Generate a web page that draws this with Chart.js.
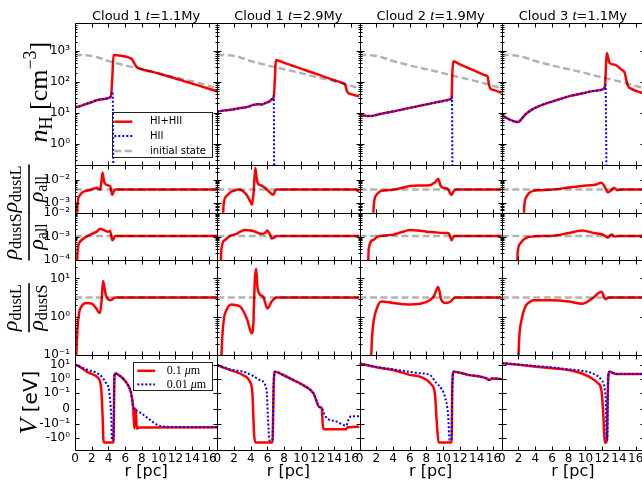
<!DOCTYPE html>
<html>
<head>
<meta charset="utf-8">
<script src="https://cdn.jsdelivr.net/npm/chart.js@4/dist/chart.umd.min.js"></script>
<style>
html, body { margin:0; padding:0; background:#ffffff; overflow:hidden; }
body { width:642px; height:482px; position:relative; }
#c { position:absolute; left:0; top:0; }
</style>
</head>
<body>
<canvas id="c" width="660" height="482" style="width:660px;height:482px"></canvas>
<script>
// ---------------- categories / labels ----------------
const COL_TITLES = ['Cloud 1', 'Cloud 1', 'Cloud 2', 'Cloud 3'];
const COL_TIMES  = ['1.1', '2.9', '1.9', '1.1'];
const X_TICKS = [0, 2, 4, 6, 8, 10, 12, 14, 16];
const X_MIN = 0, X_MAX = 17;

const NH_TICKS = [1, 10, 100, 1000];      const NH_LABELS = ['10⁰', '10¹', '10²', '10³'];
const L_TICKS  = [0.001, 0.01];           const L_LABELS  = ['10⁻³', '10⁻²'];
const S_TICKS  = [0.0001, 0.001, 0.01];   const S_LABELS  = ['10⁻⁴', '10⁻³', '10⁻²'];
const LS_TICKS = [0.1, 1, 10];            const LS_LABELS = ['10⁻¹', '10⁰', '10¹'];
const V_TICKS  = [-1, -0.1, 0, 0.1, 1, 10]; const V_LABELS = ['-10⁰', '-10⁻¹', '0', '10⁻¹', '10⁰', '10¹'];

// ---------------- initial state ----------------
const INIT_R  = [0, 1, 2, 3, 4, 5, 6, 7, 8, 9, 10, 11, 12, 13, 14, 15, 16, 17];
const INIT_NH = [740, 730, 690, 580, 470, 400, 340, 295, 255, 222, 192, 162, 140, 120, 104, 89, 74, 62];
const CONST_R = [0, 17];
const INIT_L  = [0.0038, 0.0038];
const INIT_S  = [0.00105, 0.00105];
const INIT_LS = [3.2, 3.2];

// ---------------- n_H (HI+HII) and HII ----------------
const C1_NH_R = [0,0.5,1,1.5,2,2.5,3,3.5,4,4.3,4.45,4.6,5,5.5,6,6.5,6.8,7.0,7.2,7.4,8,9,10,11,12,13,14,15,16,17];
const C1_NH   = [15,16,18,20,22,25,27,28,30,35,120,740,730,700,660,600,540,440,350,300,255,218,185,154,128,106,88,73,60,49];
const C1_HII_R = [0,0.5,1,1.5,2,2.5,3,3.5,4,4.3,4.5,4.65,17];
const C1_HII   = [15,16,18,20,22,25,27,28,30,35,48,0.001,0.001];

const C2_NH_R = [0,1,2,3,3.8,4.3,4.8,5.3,5.8,6.2,6.5,6.75,6.9,7.0,8,9,10,11,12,13,14,15,15.3,15.45,15.6,16,17];
const C2_NH   = [11,12,13,14.5,16,18,19,18.5,21,23,27,33,150,510,413,332,268,216,174,140,113,91,80,55,45,40,34];
const C2_HII_R = [0,1,2,3,3.8,4.3,4.8,5.3,5.8,6.2,6.5,6.75,6.85,17];
const C2_HII   = [11,12,13,14.5,16,18,19,18.5,21,23,27,35,0.001,0.001];

const C3_NH_R = [0,0.6,1.3,2,3,4,5,6,7,8,9,10,10.8,11.0,11.1,11.2,12,13,14,15,15.3,15.45,15.6,16,17];
const C3_NH   = [8.7,8.1,7.8,8.5,9.8,11,12.6,14.4,16.4,18.7,21.3,24.2,27,30,200,460,368,281,215,164,151,90,63,55,44];
const C3_HII_R = [0,0.6,1.3,2,3,4,5,6,7,8,9,10,10.8,11.05,11.15,17];
const C3_HII   = [8.7,8.1,7.8,8.5,9.8,11,12.6,14.4,16.4,18.7,21.3,24.2,27,34,0.001,0.001];

const C4_NH_R = [0,0.4,0.8,1.3,1.95,2.4,2.8,3.6,4.4,5.2,6,7,8,9,9.9,11,12.2,12.35,12.45,12.55,12.9,13.5,14.3,14.7,14.9,15.1,15.5,16.5,17];
const C4_NH   = [8.7,7.3,6.3,5.5,5.0,6.5,8.7,12.7,16.2,19.5,23,28,34,39,44,51,59,80,300,850,405,360,250,195,110,72,59,46,43];
const C4_HII_R = [0,0.4,0.8,1.3,1.95,2.4,2.8,3.6,4.4,5.2,6,7,8,9,9.9,11,12.2,12.4,12.6,17];
const C4_HII   = [8.7,7.3,6.3,5.5,5.0,6.5,8.7,12.7,16.2,19.5,23,28,34,39,44,51,59,80,0.001,0.001];

// ---------------- rho_dustL / rho_all ----------------
const C1_L_R = [0.15,0.3,0.5,1.0,1.4,1.8,2.2,2.6,3.0,3.15,3.3,3.45,3.6,3.9,4.2,4.45,4.6,4.8,17];
const C1_L   = [1e-5,0.0009,0.002,0.0031,0.0034,0.0036,0.0041,0.0045,0.0038,0.008,0.0195,0.009,0.0068,0.0058,0.0052,0.0023,0.003,0.0038,0.0038];
const C2_L_R = [0.6,0.75,1.1,1.5,2.0,2.5,3.0,3.5,3.9,4.15,4.35,4.55,4.7,4.9,5.2,5.7,6.2,6.7,6.9,7.1,16.6,16.85,17];
const C2_L   = [1e-5,0.0008,0.002,0.0028,0.0034,0.0038,0.0034,0.0023,0.0013,0.00087,0.003,0.032,0.012,0.0065,0.0058,0.0045,0.0031,0.0023,0.0033,0.0038,0.0038,0.0033,0.0036];
const C3_L_R = [1.55,1.7,2.0,2.4,3.0,4.0,5.0,6.0,7.2,8.4,9.0,9.4,9.7,10.0,10.5,11.0,11.2,11.5,17];
const C3_L   = [1e-5,0.0008,0.0022,0.0031,0.0035,0.0037,0.0044,0.0054,0.0056,0.0058,0.0075,0.0105,0.0055,0.0045,0.0042,0.0023,0.003,0.0038,0.0038];
const C4_L_R = [2.5,2.7,3.0,3.3,3.8,4.5,6.1,8,10.1,11.3,11.9,12.3,12.7,13.1,13.4,13.8,14.2,17];
const C4_L   = [1e-5,0.0008,0.002,0.0028,0.0034,0.0036,0.0038,0.0046,0.0056,0.0062,0.0074,0.005,0.0029,0.0036,0.0045,0.0036,0.0038,0.0038];

// ---------------- rho_dustS / rho_all ----------------
const C1_S_R = [0.15,0.3,0.6,1.2,2.0,2.6,3.0,3.4,3.9,4.2,4.45,4.6,4.8,17];
const C1_S   = [1e-6,0.0002,0.0006,0.0009,0.0013,0.0016,0.0021,0.0019,0.0016,0.0017,0.0007,0.0008,0.00105,0.00105];
const C2_S_R = [0.3,0.5,0.9,1.5,2.3,3.3,4.3,5.3,5.7,6.0,6.3,6.5,6.8,7.1,17];
const C2_S   = [1e-6,0.0003,0.0007,0.00105,0.0013,0.0019,0.0017,0.0013,0.0014,0.0018,0.0012,0.00083,0.0009,0.00105,0.00105];
const C3_S_R = [0.95,1.1,1.6,2.2,3.0,4.0,5.0,6.0,7.0,8.0,9.0,10.0,10.6,10.8,11.0,11.3,17];
const C3_S   = [1e-6,0.0003,0.0007,0.001,0.0011,0.0012,0.0015,0.0019,0.0018,0.0016,0.0015,0.0014,0.0014,0.0011,0.0007,0.00105,0.00105];
const C4_S_R = [1.75,1.9,2.2,2.55,3.0,3.7,5,6.1,8,9.6,11,12.1,12.7,13.1,13.5,14,17];
const C4_S   = [1e-6,0.0002,0.0005,0.0007,0.0009,0.001,0.00105,0.00108,0.0014,0.0018,0.0014,0.0012,0.0009,0.0012,0.001,0.00105,0.00105];

// ---------------- rho_dustL / rho_dustS ----------------
const C1_LS_R = [0.1,0.3,0.5,0.8,1.3,2.0,2.5,2.8,3.0,3.2,3.35,3.45,3.7,4.2,4.5,4.8,17];
const C1_LS   = [0.05,0.5,1.3,1.9,2.3,2.2,1.7,1.35,1.25,3,8.6,7,3.6,2.7,2.9,3.2,3.2];
const C2_LS_R = [0.45,0.6,0.8,1.1,1.7,2.3,2.8,3.6,4.1,4.3,4.5,4.65,4.8,5.0,5.5,6.0,6.5,7.1,17];
const C2_LS   = [0.05,0.3,0.9,1.5,2.1,2.0,1.8,0.82,0.37,0.6,10,18,6,4.1,3.3,1.65,2.5,3.2,3.2];
const C3_LS_R = [1.35,1.5,1.7,2.0,2.6,4.0,6.0,7.2,8.4,8.9,9.4,9.8,10.3,10.9,11.4,17];
const C3_LS   = [0.05,0.3,0.8,1.5,2.5,2.3,2.1,2.2,2.7,3.5,6.0,2.7,2.3,2.5,3.2,3.2];
const C4_LS_R = [1.95,2.1,2.4,2.8,3.3,3.8,6,8,9.6,10.8,11.9,12.4,12.8,17];
const C4_LS   = [0.05,0.3,0.9,1.8,2.4,2.7,2.7,2.5,2.2,3.0,4.5,2.9,3.2,3.2];

// ---------------- grain potential V [eV]: 0.1 um and 0.01 um ----------------
const C1_V1_R = [0,0.5,1.4,2.0,2.6,3.0,3.15,3.3,3.4,3.5,4.55,4.62,4.7,4.8,5.3,5.8,6.3,6.7,6.95,7.1,7.25,7.4,7.6,17];
const C1_V1   = [11,8,3.4,2.3,1.47,0.65,0.15,-0.05,-1.5,-2.1,-2.1,-0.5,1,2.6,1.8,1.0,0.4,0.1,0.01,-0.22,0,-0.22,-0.18,-0.17];
const C1_V01_R = [0,1,2,2.6,3.2,3.7,4.0,4.2,4.33,4.42,4.55,4.62,4.7,4.8,5.3,5.8,6.3,6.7,6.95,7.3,7.9,9.0,9.9,11,17];
const C1_V01   = [11,6,3.7,2.7,1.5,0.53,0.25,0.055,-0.05,-1.4,-1.4,-0.5,1,2.6,1.8,1.0,0.4,0.1,0.01,-0.01,-0.03,-0.074,-0.12,-0.16,-0.17];

const C2_V1_R = [0,1.5,3.1,3.9,4.2,4.4,4.55,6.6,6.75,6.9,8,9.1,10.5,11.5,12.2,12.5,12.6,12.75,15.4,15.6,17];
const C2_V1   = [10,4.5,1.9,0.65,0.1,-0.5,-2.1,-2.1,0.5,3.4,1.8,0.85,0.3,0.098,0.01,0.002,-0.1,-0.24,-0.24,-0.17,-0.16];
const C2_V01_R = [0,1.5,3.1,4.2,5.1,5.9,6.05,6.25,6.6,6.75,6.9,8,9.1,10.5,11.5,12.2,12.5,12.9,14.3,15.4,15.7,16.0,17];
const C2_V01   = [10,5,3.4,1.8,0.85,0.17,-0.05,-1.5,-1.5,0.5,3.4,1.8,0.85,0.3,0.098,0.01,0.002,-0.05,-0.085,-0.13,-0.07,-0.05,-0.05];

const C3_V1_R = [0,2,4,6,7.2,8.0,8.6,9.0,9.25,9.45,11.0,11.1,11.25,13,15.2,15.5,15.8,17];
const C3_V1   = [13,7,4.5,2.0,1.5,0.9,0.4,0.1,-0.1,-2.1,-2.1,0.5,3.4,2.0,1.1,0.85,1.1,1.0];
const C3_V01_R = [0,2,4,6,7.2,8.4,9.2,9.8,10.2,10.6,10.75,11.0,11.1,11.25,13,15.2,15.5,15.8,17];
const C3_V01   = [13,7.5,5,3.3,2.6,2.0,0.5,0.2,0.077,-0.05,-1.4,-1.4,0.5,3.4,2.0,1.1,0.85,1.1,1.0];

const C4_V1_R = [0,2,4.1,6,8,9.5,10.8,11.5,11.9,12.15,12.3,12.55,12.7,12.85,13.7,17];
const C4_V1   = [14,10.5,7.7,6,4.5,2.6,1.1,0.5,0.17,-0.05,-2.1,-2.1,0.5,3.4,2.3,2.3];
const C4_V01_R = [0,2,4.1,6,8,9.5,10.8,11.9,12.3,12.45,12.52,12.62,12.7,12.85,13.7,17];
const C4_V01   = [14,11,8.5,7,5,4,2.6,0.85,0.2,0.02,-1.4,-1.4,0.5,3.4,2.3,2.3];

const V_MIN = -7.3, V_MAX = 52;

// ---------------- helpers ----------------
const LINTHRESH = 0.1, LINSCALE = 1 / (1 - 1 / 10);
function symlog(v) {
  const a = Math.abs(v);
  return a <= LINTHRESH ? (v / LINTHRESH) * LINSCALE : Math.sign(v) * (LINSCALE + Math.log10(a / LINTHRESH));
}
const SANS = "'DejaVu Sans', sans-serif";
const SERIF = "'Liberation Serif', 'DejaVu Serif', serif";
const RED = '#ff0000', BLUE = '#0000ff', GRAY = 'rgba(0,0,0,0.3)';
const STYLE = {
  red:  { borderColor: RED,  borderWidth: 2.5, borderDash: [],     order: 2 },
  blue: { borderColor: BLUE, borderWidth: 2,   borderDash: [2, 2], order: 1 },
  gray: { borderColor: GRAY, borderWidth: 2.5, borderDash: [7, 3.5], order: 0 }
};

const ROWS = [
  { id: 'y0', log: true,  min: 0.2,  max: 8000, weight: 3, ticks: NH_TICKS, labels: NH_LABELS },
  { id: 'y1', log: true,  min: 4e-4, max: 4e-2, weight: 1, ticks: L_TICKS,  labels: L_LABELS },
  { id: 'y2', log: true,  min: 1e-4, max: 1e-2, weight: 1, ticks: S_TICKS,  labels: S_LABELS },
  { id: 'y3', log: true,  min: 0.1,  max: 30,   weight: 2, ticks: LS_TICKS, labels: LS_LABELS },
  { id: 'y4', log: false, min: symlog(V_MIN), max: symlog(V_MAX), weight: 2, ticks: V_TICKS.map(symlog), labels: V_LABELS }
];

const PER_COL = [
  { nh: [C1_NH_R, C1_NH], hii: [C1_HII_R, C1_HII], l: [C1_L_R, C1_L], s: [C1_S_R, C1_S], ls: [C1_LS_R, C1_LS], v1: [C1_V1_R, C1_V1], v01: [C1_V01_R, C1_V01] },
  { nh: [C2_NH_R, C2_NH], hii: [C2_HII_R, C2_HII], l: [C2_L_R, C2_L], s: [C2_S_R, C2_S], ls: [C2_LS_R, C2_LS], v1: [C2_V1_R, C2_V1], v01: [C2_V01_R, C2_V01] },
  { nh: [C3_NH_R, C3_NH], hii: [C3_HII_R, C3_HII], l: [C3_L_R, C3_L], s: [C3_S_R, C3_S], ls: [C3_LS_R, C3_LS], v1: [C3_V1_R, C3_V1], v01: [C3_V01_R, C3_V01] },
  { nh: [C4_NH_R, C4_NH], hii: [C4_HII_R, C4_HII], l: [C4_L_R, C4_L], s: [C4_S_R, C4_S], ls: [C4_LS_R, C4_LS], v1: [C4_V1_R, C4_V1], v01: [C4_V01_R, C4_V01] }
];

function mk(col, row, pair, style, f) {
  const [r, v] = pair;
  return Object.assign({
    data: r.map((x, i) => ({ x: x, y: f ? f(v[i]) : v[i] })),
    xAxisID: 'x' + col, yAxisID: 'y' + row,
    showLine: true, pointRadius: 0, pointHoverRadius: 0, fill: false,
    cubicInterpolationMode: 'monotone'
  }, STYLE[style]);
}

const datasets = [];
PER_COL.forEach((d, c) => {
  datasets.push(mk(c, 0, [INIT_R, INIT_NH], 'gray'));
  datasets.push(mk(c, 0, d.hii, 'blue'));
  datasets.push(mk(c, 0, d.nh, 'red'));
  datasets.push(mk(c, 1, [CONST_R, INIT_L], 'gray'));
  datasets.push(mk(c, 1, d.l, 'red'));
  datasets.push(mk(c, 2, [CONST_R, INIT_S], 'gray'));
  datasets.push(mk(c, 2, d.s, 'red'));
  datasets.push(mk(c, 3, [CONST_R, INIT_LS], 'gray'));
  datasets.push(mk(c, 3, d.ls, 'red'));
  datasets.push(mk(c, 4, d.v01, 'blue', symlog));
  datasets.push(mk(c, 4, d.v1, 'red', symlog));
});

// ---------------- scales ----------------
const scales = {};
for (let c = 0; c < 4; c++) {
  scales['x' + c] = {
    type: 'linear', position: 'bottom', stack: 'cols', stackWeight: 1,
    min: X_MIN, max: X_MAX, bounds: 'data',
    grid: { display: false, drawTicks: false }, border: { display: false },
    ticks: { font: { family: SANS, size: 12 }, color: '#000', padding: 2, autoSkip: false, maxRotation: 0, minRotation: 0 },
    afterBuildTicks: (s) => { s.ticks = X_TICKS.map(v => ({ value: v })); },
    afterFit: (s) => { s.height = 32; },
    title: { display: true, text: 'r [pc]', font: { family: SANS, size: 16 }, color: '#000', padding: { top: 0, bottom: 1 } }
  };
}
ROWS.slice().reverse().forEach(row => {
  scales[row.id] = {
    type: row.log ? 'logarithmic' : 'linear', position: 'left', stack: 'rows', stackWeight: row.weight,
    min: row.min, max: row.max, bounds: 'data',
    grid: { display: false, drawTicks: false }, border: { display: false },
    ticks: {
      font: { family: SANS, size: 12 }, color: '#000', padding: 5, autoSkip: false,
      callback: (val, idx) => row.labels[idx]
    },
    afterBuildTicks: (s) => { s.ticks = row.ticks.map(v => ({ value: v })); },
    afterFit: (s) => { s.width = 75; }
  };
});

// minor/major tick marks for frames
function logMarks(min, max) {
  const out = [];
  for (let d = Math.floor(Math.log10(min)) - 1; d <= Math.ceil(Math.log10(max)); d++) {
    for (let k = 1; k <= 9; k++) {
      const v = k * Math.pow(10, d);
      if (v >= min * 0.999 && v <= max * 1.001) out.push([v, k === 1]);
    }
  }
  return out;
}
const Y_MARKS = ROWS.map(r => r.log ? logMarks(r.min, r.max) : r.ticks.map(t => [t, true]));

// ---------------- text helpers ----------------
function segsWidth(ctx, segs) {
  let w = 0;
  segs.forEach(s => { ctx.font = s.f; w += ctx.measureText(s.t).width; });
  return w;
}
function drawSegs(ctx, segs, x, y) {
  let cx = x;
  segs.forEach(s => { ctx.font = s.f; ctx.fillText(s.t, cx, y + (s.dy || 0)); cx += ctx.measureText(s.t).width; });
}
function rotLabel(ctx, segs, x, y) {
  ctx.save(); ctx.translate(x, y); ctx.rotate(-Math.PI / 2);
  const w = segsWidth(ctx, segs); drawSegs(ctx, segs, -w / 2, 0); ctx.restore();
}
function rotFrac(ctx, num, den, x, y) {
  ctx.save(); ctx.translate(x, y); ctx.rotate(-Math.PI / 2);
  const wn = segsWidth(ctx, num), wd = segsWidth(ctx, den);
  const bw = Math.max(wn, wd) + 2;
  ctx.lineWidth = 1.6; ctx.strokeStyle = '#000';
  ctx.beginPath(); ctx.moveTo(-bw / 2, 0); ctx.lineTo(bw / 2, 0); ctx.stroke();
  drawSegs(ctx, num, -wn / 2, -12);
  drawSegs(ctx, den, -wd / 2, 14);
  ctx.restore();
}
function rho(sub) {
  return [{ t: 'ρ', f: 'italic 22px ' + SERIF }, { t: sub, f: '16px ' + SERIF, dy: 4 }];
}
function legendLine(ctx, style, x1, x2, y) {
  const s = STYLE[style];
  ctx.save();
  ctx.strokeStyle = s.borderColor; ctx.lineWidth = s.borderWidth; ctx.setLineDash(s.borderDash);
  ctx.beginPath(); ctx.moveTo(x1, y); ctx.lineTo(x2, y); ctx.stroke();
  ctx.restore();
}

// ---------------- decoration plugin ----------------
const decor = {
  id: 'decor',
  afterDraw(chart) {
    const ctx = chart.ctx;
    const xs = [0, 1, 2, 3].map(c => chart.scales['x' + c]);
    const ys = ROWS.map(r => chart.scales[r.id]);
    ctx.save();
    ctx.strokeStyle = '#000'; ctx.lineWidth = 1; ctx.setLineDash([]);
    xs.forEach(xsc => {
      ys.forEach((ysc, r) => {
        const L = Math.round(xsc.left) + 0.5, R = Math.round(xsc.right) + 0.5;
        const T = Math.round(ysc.top) + 0.5, B = Math.round(ysc.bottom) + 0.5;
        ctx.beginPath();
        ctx.rect(L, T, R - L, B - T);
        X_TICKS.forEach(v => {
          const px = Math.round(xsc.getPixelForValue(v)) + 0.5;
          ctx.moveTo(px, B); ctx.lineTo(px, B - 4);
          ctx.moveTo(px, T); ctx.lineTo(px, T + 4);
        });
        Y_MARKS[r].forEach(([v, major]) => {
          const py = Math.round(ysc.getPixelForValue(v)) + 0.5;
          const len = major ? 4 : 2;
          ctx.moveTo(L, py); ctx.lineTo(L + len, py);
          ctx.moveTo(R, py); ctx.lineTo(R - len, py);
        });
        ctx.stroke();
      });
    });

    ctx.fillStyle = '#000';
    ctx.textBaseline = 'alphabetic'; ctx.textAlign = 'left';
    // column titles
    xs.forEach((xsc, c) => {
      const segs = [
        { t: COL_TITLES[c] + ' ', f: '13px ' + SANS },
        { t: 't', f: 'italic 15px ' + SERIF },
        { t: '=' + COL_TIMES[c] + 'My', f: '13px ' + SANS }
      ];
      const w = segsWidth(ctx, segs);
      drawSegs(ctx, segs, (xsc.left + xsc.right) / 2 - w / 2, chart.chartArea.top - 3);
    });

    // y-axis labels
    const mid = (s) => (s.top + s.bottom) / 2;
    rotLabel(ctx, [
      { t: 'n', f: 'italic 26px ' + SERIF },
      { t: 'H', f: '18px ' + SERIF, dy: 5 },
      { t: ' [cm', f: '26px ' + SERIF },
      { t: '−3', f: '18px ' + SERIF, dy: -11 },
      { t: ']', f: '26px ' + SERIF }
    ], 47, mid(ys[0]) - 2);
    rotFrac(ctx, rho('dustL'), rho('all'), 29, mid(ys[1]));
    rotFrac(ctx, rho('dustS'), rho('all'), 29, mid(ys[2]));
    rotFrac(ctx, rho('dustL'), rho('dustS'), 29, mid(ys[3]));
    rotLabel(ctx, [
      { t: 'V', f: 'italic 26px ' + SERIF },
      { t: ' [eV]', f: '20px ' + SANS }
    ], 37, mid(ys[4]));

    // legend 1 (n_H panel)
    let L = xs[0].left, T = ys[0].top;
    ctx.lineWidth = 1; ctx.strokeStyle = '#222';
    ctx.strokeRect(Math.round(L + 36.7) + 0.5, Math.round(T + 88.7) + 0.5, 100, 45);
    const leg1 = [['red', 'HI+HII'], ['blue', 'HII'], ['gray', 'initial state']];
    const leg1y = [98.7, 113, 128];
    ctx.textBaseline = 'middle';
    leg1.forEach(([st, txt], i) => {
      legendLine(ctx, st, L + 39.3, L + 57.3, T + leg1y[i]);
      ctx.fillStyle = '#000'; ctx.font = '10px ' + SANS;
      ctx.fillText(txt, L + 75, T + leg1y[i]);
    });

    // legend 2 (V panel)
    L = xs[0].left; T = ys[4].top;
    ctx.lineWidth = 1; ctx.strokeStyle = '#222';
    ctx.strokeRect(Math.round(L + 57.7) + 0.5, Math.round(T + 6.7) + 0.5, 79, 28);
    const leg2 = [['red', '0.1 '], ['blue', '0.01 ']];
    const leg2y = [15.7, 29.3];
    leg2.forEach(([st, txt], i) => {
      legendLine(ctx, st, L + 62.3, L + 80, T + leg2y[i]);
      ctx.fillStyle = '#000';
      drawSegs(ctx, [
        { t: txt, f: '12px ' + SERIF },
        { t: 'μ', f: 'italic 12px ' + SERIF },
        { t: 'm', f: '12px ' + SERIF }
      ], L + 91.7, T + leg2y[i]);
    });
    ctx.restore();
  }
};

new Chart(document.getElementById('c'), {
  type: 'scatter',
  data: { datasets: datasets },
  options: {
    responsive: false, animation: false, devicePixelRatio: 1, events: [],
    layout: { padding: { left: 0, top: 23, right: 16, bottom: 0 } },
    plugins: { legend: { display: false }, tooltip: { enabled: false } },
    scales: scales
  },
  plugins: [decor]
});
</script>
</body>
</html>
